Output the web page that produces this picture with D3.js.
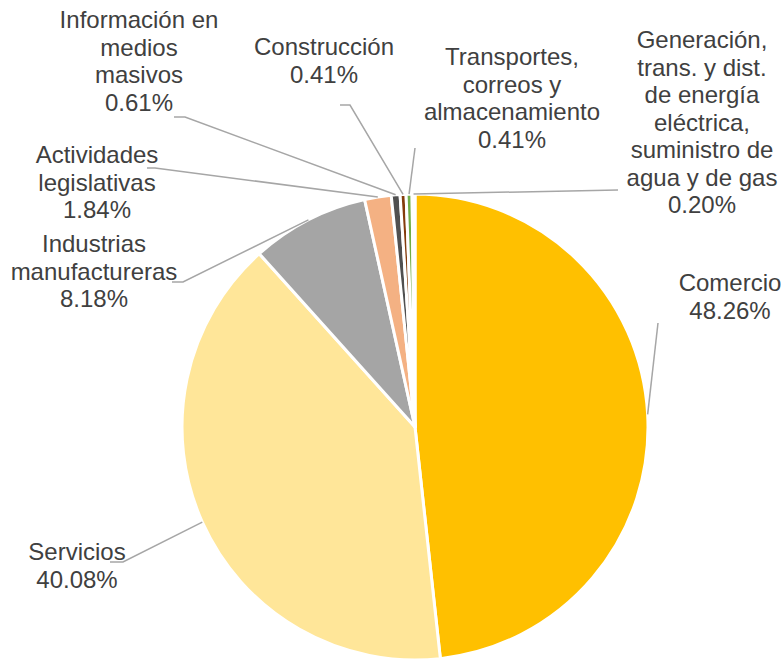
<!DOCTYPE html>
<html>
<head>
<meta charset="utf-8">
<script src="https://cdn.jsdelivr.net/npm/d3@7"></script>
<style>
  body { margin: 0; background: #fff; }
  text { font-family: "Liberation Sans", Arial, sans-serif; font-size: 24px; fill: #404040; }
</style>
</head>
<body>
<div id="chart"></div>
<script>
// Pie chart - share by sector

// Data
var categories = [
  "Comercio",
  "Servicios",
  "Industrias manufactureras",
  "Actividades legislativas",
  "Información en medios masivos",
  "Construcción",
  "Transportes, correos y almacenamiento",
  "Generación, trans. y dist. de energía eléctrica, suministro de agua y de gas"
];
var values = [48.26, 40.08, 8.18, 1.84, 0.61, 0.41, 0.41, 0.20];
var colors = ["#FFC000", "#FFE699", "#A5A5A5", "#F4B183", "#505050", "#843C0C", "#70AD47", "#BDD7EE"];

// label text split in lines like the original
var labelLines = [
  ["Comercio"],
  ["Servicios"],
  ["Industrias", "manufactureras"],
  ["Actividades", "legislativas"],
  ["Información en", "medios", "masivos"],
  ["Construcción"],
  ["Transportes,", "correos y", "almacenamiento"],
  ["Generación,", "trans. y dist.", "de energía", "eléctrica,", "suministro de", "agua y de gas"]
];

// Chart details
var svgWidth = 783;
var svgHeight = 660;
var cx = 415;
var cy = 427;
var radius = 233;
var lineHeight = 27.5;

// where the labels were dragged to, and the bend of their leader lines
var labelPos = [
  { x: 730, y: 291, bend: [[658, 323]] },
  { x: 77, y: 560, bend: [[110, 562], [123, 562]] },
  { x: 94, y: 252, bend: [[172, 282], [183, 282]] },
  { x: 97, y: 163, bend: [[147, 168], [155, 168]] },
  { x: 139, y: 28, bend: [[174, 117], [185, 117]] },
  { x: 324, y: 55, bend: [[340, 105], [350, 105]] },
  { x: 512, y: 65, bend: [[415, 148]] },
  { x: 702, y: 48, bend: [[618, 190]] }
];

var data = categories.map(function(c, i) {
  return { name: c, value: values[i], color: colors[i], lines: labelLines[i], pos: labelPos[i] };
});

var svg = d3.select("#chart").append("svg")
  .attr("width", svgWidth)
  .attr("height", svgHeight);

var chartGroup = svg.append("g")
  .attr("transform", `translate(${cx}, ${cy})`);

var pie = d3.pie()
  .sort(null)
  .value(d => d.value);

var arc = d3.arc()
  .innerRadius(0)
  .outerRadius(radius);

// point on the rim, used as the end of the leader lines
var rimArc = d3.arc()
  .innerRadius(radius)
  .outerRadius(radius);

var arcs = pie(data);

chartGroup.selectAll("path.slice")
  .data(arcs)
  .enter()
  .append("path")
  .classed("slice", true)
  .attr("d", arc)
  .attr("fill", d => d.data.color)
  .attr("stroke", "#fff")
  .attr("stroke-width", 3)
  .attr("stroke-linejoin", "round");

// Leader lines
var line = d3.line();
svg.selectAll("path.leader")
  .data(arcs)
  .enter()
  .append("path")
  .classed("leader", true)
  .attr("d", function(d) {
    var c = rimArc.centroid(d);
    var pts = d.data.pos.bend.concat([[c[0] + cx, c[1] + cy]]);
    return line(pts);
  })
  .attr("fill", "none")
  .attr("stroke", "#A6A6A6")
  .attr("stroke-width", 1.5);

// Labels
var fmt = d3.format(".2f");
var labels = svg.selectAll("text.label")
  .data(arcs)
  .enter()
  .append("text")
  .classed("label", true)
  .attr("text-anchor", "middle")
  .attr("x", d => d.data.pos.x)
  .attr("y", d => d.data.pos.y);

labels.each(function(d) {
  var t = d3.select(this);
  var lines = d.data.lines.concat([fmt(d.data.value) + "%"]);
  lines.forEach(function(s, i) {
    t.append("tspan")
      .attr("x", d.data.pos.x)
      .attr("y", d.data.pos.y + i * lineHeight)
      .text(s);
  });
});
</script>
</body>
</html>
